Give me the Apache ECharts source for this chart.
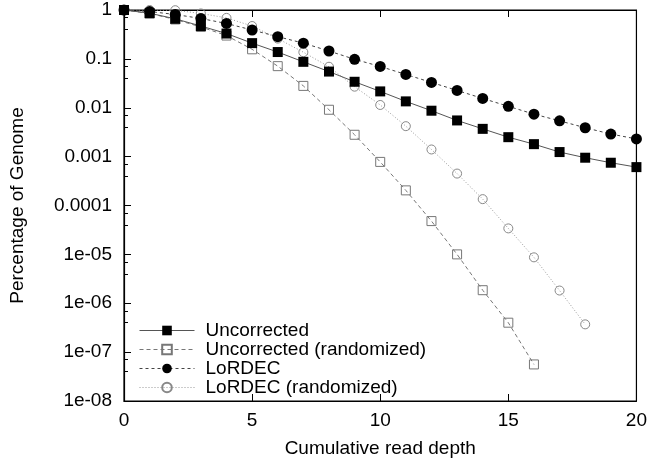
<!DOCTYPE html>
<html>
<head>
<meta charset="utf-8">
<script src="https://cdn.jsdelivr.net/npm/echarts@6/dist/echarts.min.js"></script>
<style>
html,body{margin:0;padding:0;background:#fff;}
#c{width:650px;height:463px;}
</style>
</head>
<body>
<div id="c"></div>
<script>
// ---- data ----
const depth = [0,1,2,3,4,5,6,7,8,9,10,11,12,13,14,15,16,17,18,19,20];
const uncorrected = [1, 0.86, 0.66, 0.47, 0.33, 0.21, 0.138, 0.087, 0.055, 0.034, 0.0216, 0.0135, 0.0087, 0.0055, 0.0037, 0.0025, 0.0018, 0.00124, 0.00095, 0.00075, 0.00061];
const uncorrectedRand = [1, 0.85, 0.64, 0.45, 0.30, 0.157, 0.071, 0.028, 0.0091, 0.0028, 0.00078, 0.000204, 4.8e-5, 1.0e-5, 1.85e-6, 4.0e-7, 5.6e-8];
const lordec = [1, 0.93, 0.81, 0.67, 0.53, 0.39, 0.285, 0.21, 0.145, 0.098, 0.070, 0.048, 0.033, 0.0226, 0.0155, 0.0107, 0.0074, 0.0054, 0.0039, 0.0029, 0.0023];
const lordecRand = [1, 1.0, 0.99, 0.85, 0.69, 0.47, 0.26, 0.137, 0.069, 0.027, 0.0114, 0.0042, 0.0014, 0.00045, 0.000135, 3.4e-5, 8.7e-6, 1.82e-6, 3.7e-7];
const seriesNames = ['Uncorrected', 'Uncorrected (randomized)', 'LoRDEC', 'LoRDEC (randomized)'];
const yTickLabels = ['1', '0.1', '0.01', '0.001', '0.0001', '1e-05', '1e-06', '1e-07', '1e-08'];
const xTicks = [0, 5, 10, 15, 20];

function pairs(vals){ return vals.map((v,i)=>[depth[i], v]); }

const FONT = 'Liberation Sans, Arial, sans-serif';
const FS = 19;
const chart = echarts.init(document.getElementById('c'), null, {renderer:'canvas'});
chart.setOption({
  animation: false,
  backgroundColor: '#fff',
  grid: {left:117, right:13, top:10, bottom:60, show:true, borderColor:'#000', borderWidth:1.2, containLabel:false},
  legend: {
    orient: 'vertical', left: 134, top: 316, padding: 5,
    itemWidth: 55, itemHeight: 12, itemGap: 0,
    lineStyle: {width: 1},
    textStyle: {fontFamily: FONT, fontSize: FS, color:'#000', padding:[0,0,0,6]},
    data: seriesNames
  },
  xAxis: [{
    type:'value', min:xTicks[0], max:xTicks[xTicks.length-1], interval:5,
    name:'Cumulative read depth', nameLocation:'middle', nameGap:38,
    nameTextStyle:{fontFamily:FONT, fontSize:FS, color:'#000'},
    axisLine:{show:true, onZero:false, lineStyle:{color:'#000', width:1.2}},
    axisTick:{show:true, inside:true, length:7, lineStyle:{color:'#000'}},
    axisLabel:{fontFamily:FONT, fontSize:FS, color:'#000', margin:10},
    splitLine:{show:false}
  },{
    type:'value', position:'top', min:xTicks[0], max:xTicks[xTicks.length-1], interval:5,
    axisLine:{show:true, lineStyle:{color:'#000', width:1.2}},
    axisTick:{show:true, inside:true, length:7, lineStyle:{color:'#000'}},
    axisLabel:{show:false}, splitLine:{show:false}
  }],
  yAxis: [{
    type:'log', logBase:10, min:1e-8, max:1, splitNumber:8,
    name:'Percentage of Genome', nameLocation:'middle', nameGap:97,
    nameTextStyle:{fontFamily:FONT, fontSize:FS, color:'#000'},
    axisLine:{show:true, lineStyle:{color:'#000', width:1.2}},
    axisTick:{show:true, inside:true, length:7, lineStyle:{color:'#000'}},
    minorTick:{show:true, splitNumber:3, length:4, lineStyle:{color:'#000'}},
    axisLabel:{fontFamily:FONT, fontSize:FS, color:'#000', margin:12,
      formatter: v => yTickLabels[Math.round(-Math.log10(v))] },
    splitLine:{show:false}, minorSplitLine:{show:false}
  }],
  series: [
    {name:seriesNames[0], type:'line', data:pairs(uncorrected), z:5,
     symbol:'rect', symbolSize:10, showAllSymbol:true,
     lineStyle:{color:'#555', width:1, type:'solid'},
     itemStyle:{color:'#000', borderColor:'#000', borderWidth:0}},
    {name:seriesNames[1], type:'line', data:pairs(uncorrectedRand), z:3,
     symbol:'rect', symbolSize:9, showAllSymbol:true,
     lineStyle:{color:'#777', width:1, type:[4,3]},
     itemStyle:{color:'rgba(255,255,255,0)', borderColor:'#777', borderWidth:1}},
    {name:seriesNames[2], type:'line', data:pairs(lordec), z:4,
     symbol:'circle', symbolSize:11, showAllSymbol:true,
     lineStyle:{color:'#444', width:1, type:[3,3]},
     itemStyle:{color:'#000', borderColor:'#000', borderWidth:0}},
    {name:seriesNames[3], type:'line', data:pairs(lordecRand), z:2,
     symbol:'circle', symbolSize:9, showAllSymbol:true,
     lineStyle:{color:'#999', width:1, type:[1,2]},
     itemStyle:{color:'rgba(255,255,255,0)', borderColor:'#888', borderWidth:1}}
  ]
});
</script>
</body>
</html>
